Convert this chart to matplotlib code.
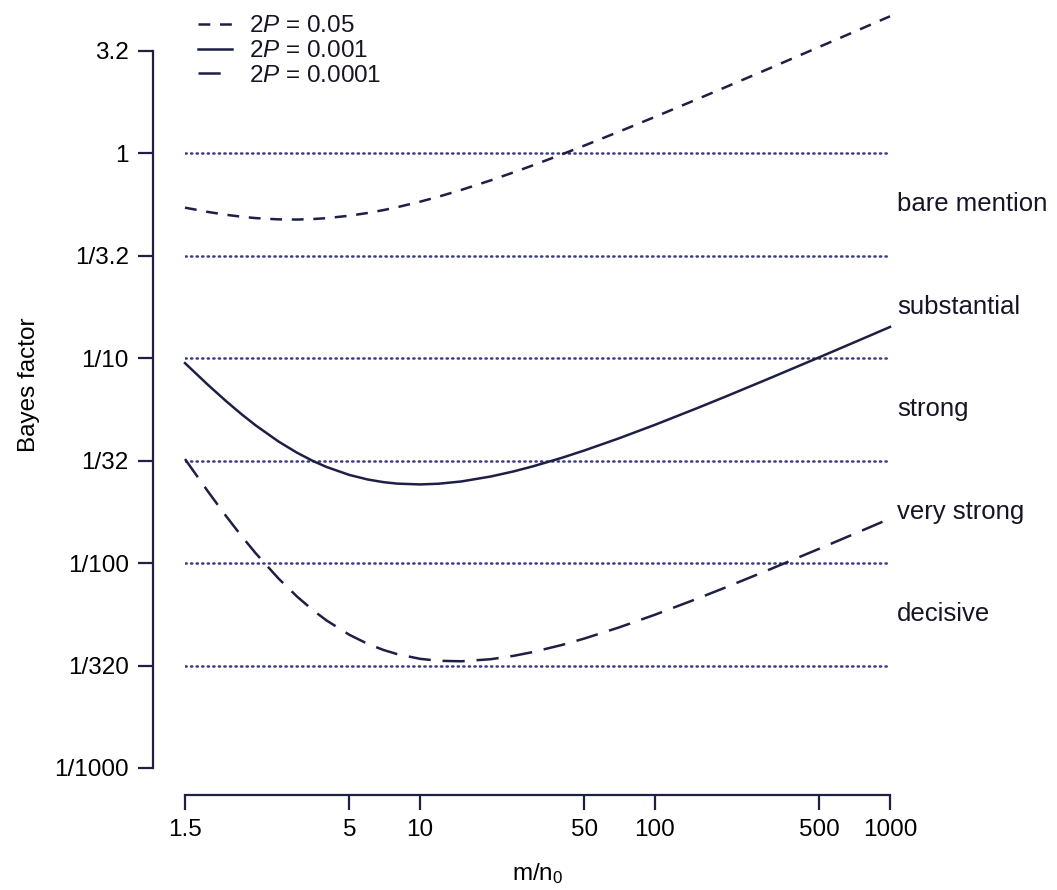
import matplotlib

matplotlib.use("Agg")
import matplotlib.pyplot as plt
import matplotlib.transforms as mtransforms

# rapport m/n0 (axe x, log)
ratio = [1, 1.25, 1.5, 1.75, 2, 2.5, 3, 3.5, 4, 5, 6, 7, 8, 10, 12, 15, 20, 25, 30, 40,
         50, 70, 100, 150, 200, 300, 500, 700, 1000]

# facteurs de Bayes
bf_005 = [0.5412, 0.5160, 0.4994, 0.4885, 0.4813, 0.4745, 0.4736, 0.4762, 0.4810, 0.4943,
          0.5100, 0.5268, 0.5440, 0.5786, 0.6123, 0.6607, 0.7356, 0.8043, 0.8678, 0.9830,
          1.0864, 1.2683, 1.5006, 1.8233, 2.0970, 2.5580, 3.2920, 3.8890, 4.6440]
bf_0001 = [0.09439, 0.07411, 0.06142, 0.05290, 0.04689, 0.03914, 0.03449, 0.03147, 0.02941,
           0.02690, 0.02554, 0.02479, 0.02439, 0.02417, 0.02436, 0.02499, 0.02642, 0.02797,
           0.02954, 0.03255, 0.03538, 0.04051, 0.04723, 0.05674, 0.06488, 0.07869, 0.10079,
           0.11886, 0.14171]
bf_00001 = [0.03214, 0.02239, 0.01686, 0.01343, 0.01115, 0.008400, 0.006853, 0.005890,
            0.005248, 0.004467, 0.004029, 0.003763, 0.003593, 0.003409, 0.003334, 0.003316,
            0.003394, 0.003524, 0.003672, 0.003978, 0.004279, 0.004842, 0.005595, 0.006674,
            0.007605, 0.009190, 0.011738, 0.013826, 0.016468]

SERIES = [("2$P$ = 0.05", bf_005, (0, (8.5, 7))),
          ("2$P$ = 0.001", bf_0001, "-"),
          ("2$P$ = 0.0001", bf_00001, (0, (16, 8.5)))]

y_ticks = [10 ** 0.5, 1, 10 ** -0.5, 0.1, 10 ** -1.5, 0.01, 10 ** -2.5, 0.001]
y_labels = ["3.2", "1", "1/3.2", "1/10", "1/32", "1/100", "1/320", "1/1000"]
x_ticks = [1, 5, 10, 50, 100, 500, 1000]
x_labels = ["1.5", "5", "10", "50", "100", "500", "1000"]

grid_levels = [1, 10 ** -0.5, 0.1, 10 ** -1.5, 0.01, 10 ** -2.5]
zones = ["bare mention", "substantial", "strong", "very strong", "decisive"]
zone_y = [10 ** -0.25, 10 ** -0.75, 10 ** -1.25, 10 ** -1.75, 10 ** -2.25]

INK = "#1f1f45"
DOT = "#3a3a85"
plt.rcParams.update({"font.family": ["Liberation Sans", "DejaVu Sans"],
                     "mathtext.fontset": "custom", "mathtext.rm": "Liberation Sans",
                     "mathtext.it": "Liberation Sans:italic",
                     "lines.scale_dashes": False, "text.color": "#151525"})

fig = plt.figure(figsize=(10.57, 8.9), dpi=100)
ax = fig.add_axes([185 / 1057, 122 / 890, 705 / 1057, 3.74 * 205 / 890])
ax.set_xscale("log")
ax.set_yscale("log")
ax.set_xlim(1, 1000)
ax.set_ylim(0.001, 10 ** 0.74)

for lv in grid_levels:
    ax.plot([1, 1000], [lv, lv], color=DOT, lw=1.8, ls=(0, (0.9, 3.1)),
            dash_capstyle="round")

for lab, vals, ls in SERIES:
    ax.plot(ratio, vals, color=INK, lw=1.8, ls=ls, label=lab, clip_on=False)

trans = mtransforms.blended_transform_factory(ax.transAxes, ax.transData)
for z, yv in zip(zones, zone_y):
    ax.text(1.01, yv, z, transform=trans, fontsize=18.5, va="center", ha="left",
            clip_on=False)

for s in ("top", "right"):
    ax.spines[s].set_visible(False)
ax.spines["left"].set_position(("outward", 23))
ax.spines["bottom"].set_position(("outward", 19.5))
ax.spines["left"].set_bounds(0.001, 10 ** 0.5)
ax.spines["bottom"].set_bounds(1, 1000)
for s in ("left", "bottom"):
    ax.spines[s].set_color(INK)
    ax.spines[s].set_linewidth(1.6)

ax.set_yticks(y_ticks, y_labels)
ax.set_xticks(x_ticks, x_labels)
ax.minorticks_off()
ax.tick_params(axis="both", length=10.5, width=1.6, color=INK, labelsize=17.5, pad=7)

ax.set_ylabel("Bayes factor", fontsize=17.5, labelpad=10)
ax.set_xlabel("m/n$_0$", fontsize=17.5, labelpad=14)

fig.legend(loc="upper left", bbox_to_anchor=(198 / 1057, 0.983), frameon=False,
           fontsize=17.5, handlelength=1.38, handletextpad=0.7, labelspacing=0.12,
           borderpad=0, borderaxespad=0)

fig.savefig("out.png", dpi=100)
